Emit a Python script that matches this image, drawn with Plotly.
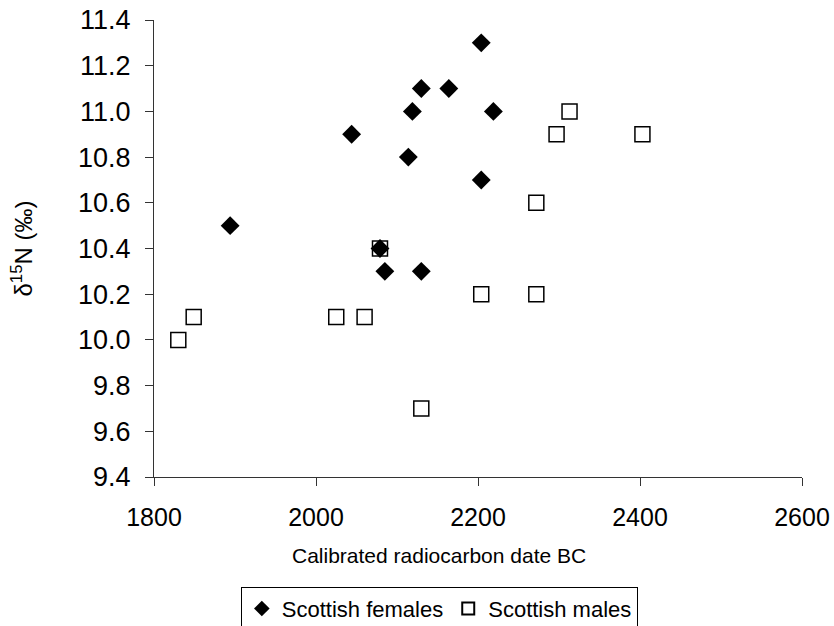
import plotly.graph_objects as go

# Scottish females: calibrated date (BC) and delta-15N (per mil)
female_date = [1894, 2044, 2114, 2119, 2130, 2164, 2204, 2219, 2204, 2079, 2085, 2130]
female_d15n = [10.5, 10.9, 10.8, 11.0, 11.1, 11.1, 11.3, 11.0, 10.7, 10.4, 10.3, 10.3]

# Scottish males
male_date = [1830, 1849, 2025, 2060, 2079, 2130, 2204, 2272, 2272, 2297, 2313, 2403]
male_d15n = [10.0, 10.1, 10.1, 10.1, 10.4, 9.7, 10.2, 10.6, 10.2, 10.9, 11.0, 10.9]

x_ticks = [1800, 2000, 2200, 2400, 2600]
y_ticks = [9.4, 9.6, 9.8, 10.0, 10.2, 10.4, 10.6, 10.8, 11.0, 11.2, 11.4]

FONT = "Liberation Sans, Arial, sans-serif"

fig = go.Figure()

# males first so the filled diamonds sit on top of the hollow squares
fig.add_trace(go.Scatter(
    x=male_date, y=male_d15n, mode="markers", name="Scottish males",
    legendrank=2,
    marker=dict(symbol="square", size=15, color="white",
                line=dict(color="black", width=1.5)),
))
fig.add_trace(go.Scatter(
    x=female_date, y=female_d15n, mode="markers", name="Scottish females",
    legendrank=1,
    marker=dict(symbol="diamond", size=14.5, color="black",
                line=dict(color="black", width=0)),
))

axis_common = dict(
    showgrid=False, zeroline=False, showline=True, linecolor="#333",
    linewidth=1, ticks="outside", ticklen=8, tickcolor="#333", tickwidth=1,
)

fig.update_xaxes(
    range=[1800, 2600], tickvals=x_ticks, ticktext=[str(v) for v in x_ticks],
    tickfont=dict(family=FONT, size=25, color="black"),
    ticklabelstandoff=10,
    **axis_common,
)
fig.update_yaxes(
    range=[9.4, 11.4], tickvals=y_ticks, ticktext=[f"{v:.1f}" for v in y_ticks],
    tickfont=dict(family=FONT, size=27, color="black"),
    title=dict(text="δ<sup>15</sup>N (‰)",
               font=dict(family=FONT, size=24, color="black"), standoff=38),
    ticklabelstandoff=9,
    **axis_common,
)

# x-axis title placed as an annotation, slightly left of the plot centre
fig.add_annotation(
    text="Calibrated radiocarbon date BC", xref="paper", yref="paper",
    x=0.44, y=-0.172, xanchor="center", yanchor="middle", showarrow=False,
    font=dict(family=FONT, size=21, color="black"),
)

fig.update_layout(
    width=834, height=626,
    margin=dict(l=154, r=32, t=20, b=149, autoexpand=False),
    plot_bgcolor="white", paper_bgcolor="white",
    showlegend=True,
    legend=dict(
        orientation="h", x=0.134, xanchor="left", y=-0.24, yanchor="top",
        bordercolor="black", borderwidth=1,
        font=dict(family=FONT, size=22, color="black"),
        itemsizing="constant",
    ),
)

fig.write_html("out.html")
